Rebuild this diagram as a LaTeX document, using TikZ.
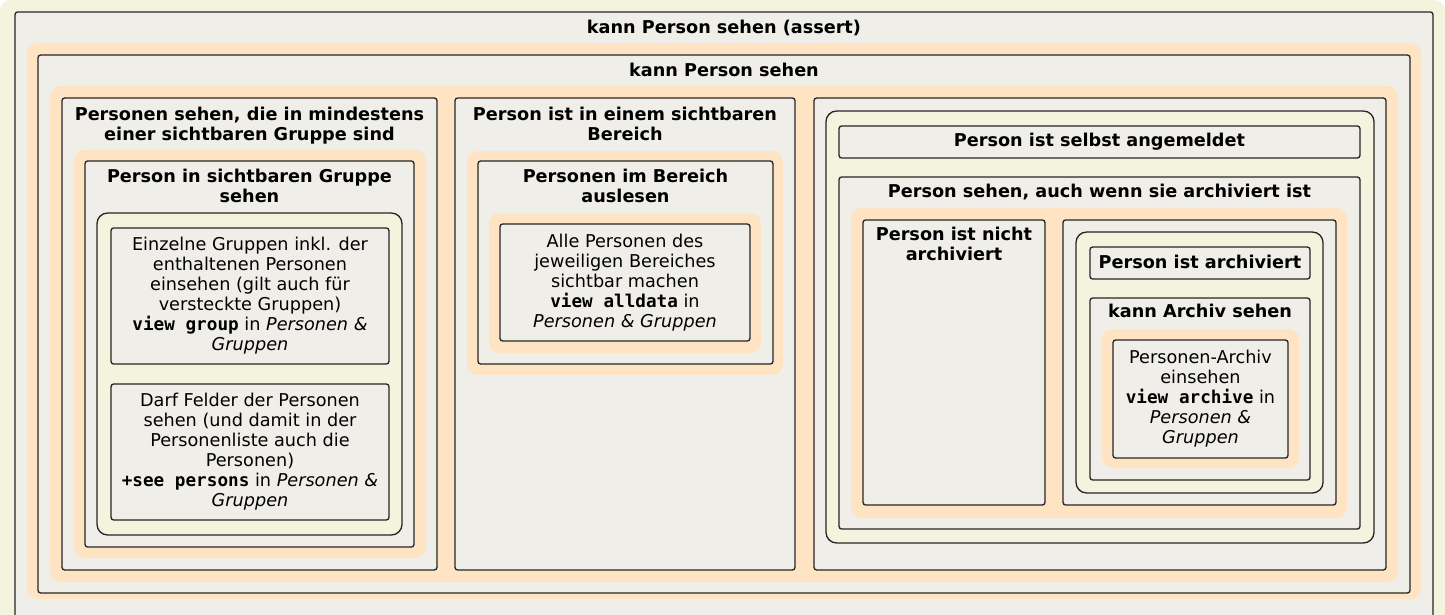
\documentclass[tikz,border=0pt]{standalone}
\usepackage{fontspec}
\setmainfont{DejaVu Sans}
\newfontfamily\codefont{DejaVu Sans Mono}
\usepackage{xcolor}
\usetikzlibrary{positioning, fit, backgrounds, calc}

\definecolor{paleyellow}{RGB}{244,244,222}
\definecolor{boxgray}{RGB}{240,238,233}
\definecolor{glowcol}{RGB}{255,228,196}

\newcommand{\permcode}[1]{{\codefont\bfseries #1}}

\begin{document}
\begin{tikzpicture}[x=0.75pt, y=-0.75pt, every node/.style={font=\fontsize{13.25}{15}\selectfont}]
    \tikzset{
        permbox/.style={rectangle, draw=black!85, line width=1pt, fill=boxgray, rounded corners=2pt, inner sep=0pt},
        orbox/.style={permbox, fill=paleyellow, rounded corners=8pt},
        glow/.style={rectangle, fill=glowcol, rounded corners=8pt, inner sep=0pt},
        heading/.style={anchor=base, align=center, inner sep=0pt, font=\fontsize{13.25}{15}\selectfont\bfseries},
        leaftext/.style={align=center, inner sep=0pt}
    }

    \useasboundingbox (0,0) rectangle (1445,614);
    \clip (0,0) rectangle (1445,614);
    \fill[paleyellow, rounded corners=8pt] (0,0) rectangle (1445,660);

    % kann Person sehen (assert)
    \node[permbox, fit={(15,12) (1433,660)}] (assert) {};
    \node[heading] (assertT) at (724,33) {kann Person sehen (assert)};
    \node[glow, fit={(27,43) (1421,599)}] (glowA) {};
    \node[permbox, fit={(38,55) (1410,593)}] (see) {};
    \node[heading] (seeT) at (724,76) {kann Person sehen};
    \node[glow, fit={(50,86) (1398,582)}] (glowB) {};

    % erste Spalte: Gruppen
    \node[permbox, fit={(62,98) (437,570)}] (groups) {};
    \node[heading] (groupsT) at (249.5,140) {Personen sehen, die in mindestens\\einer sichtbaren Gruppe sind};
    \node[glow, fit={(74,150) (426,558)}] (glowC) {};
    \node[permbox, fit={(85,161) (414,547)}] (ingroup) {};
    \node[heading] (ingroupT) at (249.5,202) {Person in sichtbaren Gruppe\\sehen};
    \node[orbox, fit={(97,213) (402,535)}] (groupor) {};
    \node[permbox, fit={(111,228) (389,364)}] (viewgroup) {};
    \node[leaftext] (viewgroupT) at (viewgroup.center) {Einzelne Gruppen inkl. der\\enthaltenen Personen\\einsehen (gilt auch für\\versteckte Gruppen)\\\permcode{view group} in \textit{Personen \&}\\\textit{Gruppen}};
    \node[permbox, fit={(111,384) (389,520)}] (seepersons) {};
    \node[leaftext] (seepersonsT) at (seepersons.center) {Darf Felder der Personen\\sehen (und damit in der\\Personenliste auch die\\Personen)\\\permcode{+see persons} in \textit{Personen \&}\\\textit{Gruppen}};

    % zweite Spalte: Bereich
    \node[permbox, fit={(455,98) (795,570)}] (area) {};
    \node[heading] (areaT) at (625,140) {Person ist in einem sichtbaren\\Bereich};
    \node[glow, fit={(467,151) (783,375)}] (glowD) {};
    \node[permbox, fit={(478,161) (773,364)}] (readarea) {};
    \node[heading] (readareaT) at (625.5,202) {Personen im Bereich\\auslesen};
    \node[glow, fit={(489,213) (761,353)}] (glowE) {};
    \node[permbox, fit={(500,224) (750,341)}] (alldata) {};
    \node[leaftext] (alldataT) at (alldata.center) {Alle Personen des\\jeweiligen Bereiches\\sichtbar machen\\\permcode{view alldata} in\\\textit{Personen \& Gruppen}};

    % dritte Spalte: selbst / Archiv
    \node[permbox, fit={(814,98) (1386,570)}] (self) {};
    \node[orbox, fit={(826,111) (1374,543)}] (selfor) {};
    \node[permbox, fit={(839,126) (1360,158)}] (loggedin) {};
    \node[heading] (loggedinT) at (1099.5,146) {Person ist selbst angemeldet};
    \node[permbox, fit={(839,177) (1360,529)}] (archived) {};
    \node[heading] (archivedT) at (1099.5,197) {Person sehen, auch wenn sie archiviert ist};
    \node[glow, fit={(851,208) (1347,518)}] (glowF) {};
    \node[permbox, fit={(863,220) (1045,505)}] (notarch) {};
    \node[heading] (notarchT) at (954,260) {Person ist nicht\\archiviert};
    \node[permbox, fit={(1063,220) (1336,505)}] (arch) {};
    \node[orbox, fit={(1076,232) (1323,493)}] (archor) {};
    \node[permbox, fit={(1090,247) (1310,279)}] (isarch) {};
    \node[heading] (isarchT) at (1200,268) {Person ist archiviert};
    \node[permbox, fit={(1090,298) (1310,480)}] (seearch) {};
    \node[heading] (seearchT) at (1200,317) {kann Archiv sehen};
    \node[glow, fit={(1102,329) (1299,468)}] (glowG) {};
    \node[permbox, fit={(1113,340) (1288,458)}] (viewarch) {};
    \node[leaftext] (viewarchT) at (viewarch.center) {Personen-Archiv\\einsehen\\\permcode{view archive} in\\\textit{Personen \&}\\\textit{Gruppen}};
\end{tikzpicture}
\end{document}
